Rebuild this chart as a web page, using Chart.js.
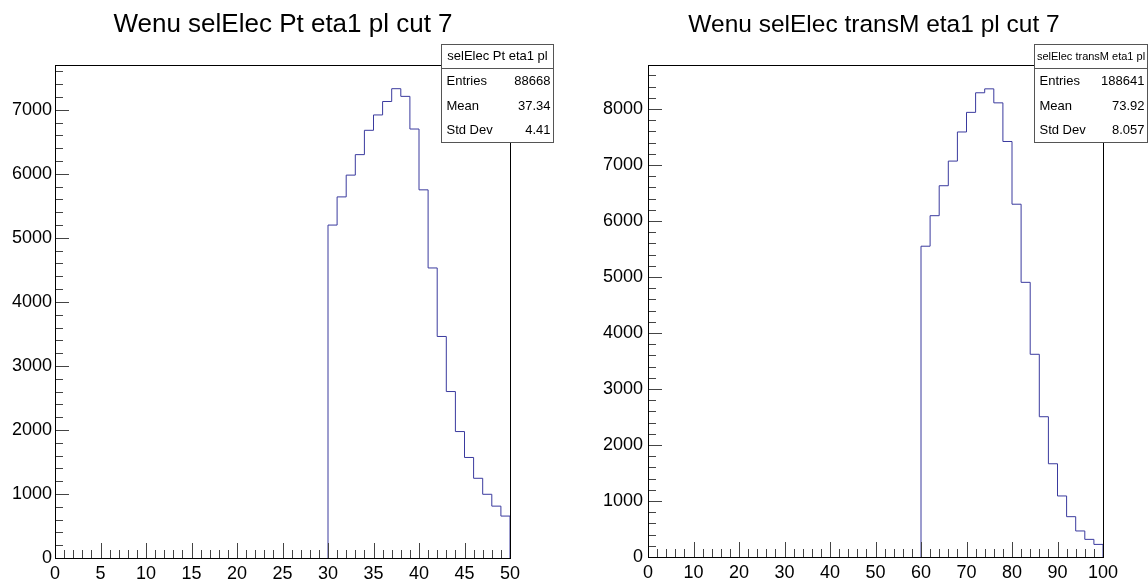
<!DOCTYPE html>
<html>
<head>
<meta charset="utf-8">
<script src="https://cdn.jsdelivr.net/npm/chart.js@4"></script>
<style>
  html, body { margin: 0; padding: 0; background: #fff; }
  #wrap { position: relative; width: 1148px; height: 581px; }
  canvas { position: absolute; top: 0; }
</style>
</head>
<body>
<div id="wrap">
  <canvas id="ptChart" width="574" height="581" style="left:0"></canvas>
  <canvas id="mtChart" width="574" height="581" style="left:574px"></canvas>
</div>
<script>
// left pad: electron Pt
const ptTitle = 'Wenu selElec Pt eta1 pl cut 7';
const ptBinEdges = [30, 31, 32, 33, 34, 35, 36, 37, 38, 39, 40, 41, 42, 43, 44, 45, 46, 47, 48, 49, 50];
const ptCounts = [5200, 5640, 5980, 6300, 6680, 6920, 7130, 7330, 7210, 6700,
                  5750, 4530, 3460, 2600, 1975, 1570, 1245, 995, 810, 655];
const ptXTicks = [0, 5, 10, 15, 20, 25, 30, 35, 40, 45, 50];
const ptYTicks = [0, 1000, 2000, 3000, 4000, 5000, 6000, 7000];
const ptStatsName = 'selElec Pt eta1 pl';
const ptStatsLabels = ['Entries', 'Mean', 'Std Dev'];
const ptStatsValues = ['88668', '37.34', '4.41'];

// right pad: transverse mass
const mtTitle = 'Wenu selElec transM eta1 pl cut 7';
const mtBinEdges = [60, 62, 64, 66, 68, 70, 72, 74, 76, 78, 80, 82, 84, 86, 88, 90, 92, 94, 96, 98, 100];
const mtCounts = [5550, 6095, 6630, 7070, 7590, 7940, 8290, 8360, 8110, 7420,
                  6300, 4905, 3620, 2505, 1665, 1090, 720, 465, 315, 225];
const mtXTicks = [0, 10, 20, 30, 40, 50, 60, 70, 80, 90, 100];
const mtYTicks = [0, 1000, 2000, 3000, 4000, 5000, 6000, 7000, 8000];
const mtStatsName = 'selElec transM eta1 pl';
const mtStatsLabels = ['Entries', 'Mean', 'Std Dev'];
const mtStatsValues = ['188641', '73.92', '8.057'];

const FONT = '"Liberation Sans", Arial, Helvetica, sans-serif';
const LINE_COLOR = '#3a3a9e';

// ROOT style: ticks inside the frame, minor ticks, full box
const rootFrame = {
  id: 'rootFrame',
  afterDatasetsDraw(chart, args, opts) {
    const { ctx, chartArea: a, scales: { x, y } } = chart;
    ctx.save();
    ctx.lineWidth = 1;
    ctx.strokeStyle = '#444';
    ctx.beginPath();
    for (let v = y.min; v <= y.max; v += opts.yMinor) {
      const py = Math.round(y.getPixelForValue(v)) + 0.5;
      const len = v % opts.yMajor === 0 ? 14 : 8;
      ctx.moveTo(a.left, py);
      ctx.lineTo(a.left + len, py);
    }
    for (let v = x.min; v <= x.max; v += opts.xMinor) {
      const px = Math.round(x.getPixelForValue(v)) + 0.5;
      const len = v % opts.xMajor === 0 ? 15 : 8;
      ctx.moveTo(px, a.bottom);
      ctx.lineTo(px, a.bottom - len);
    }
    ctx.stroke();
    ctx.strokeStyle = '#000';
    ctx.strokeRect(Math.round(a.left) + 0.5, Math.round(a.top) + 0.5,
                   Math.round(a.right - a.left), Math.round(a.bottom - a.top));
    ctx.restore();
  },
  afterDraw(chart, args, opts) {
    const ctx = chart.ctx;
    const b = opts.box;
    ctx.save();
    ctx.fillStyle = '#000';
    ctx.font = opts.titleSize + 'px ' + FONT;
    ctx.textAlign = 'center';
    ctx.textBaseline = 'alphabetic';
    ctx.fillText(opts.title, opts.titleX, 32);

    ctx.fillStyle = '#fff';
    ctx.fillRect(b.x, b.y, b.w, b.h);
    ctx.strokeStyle = '#555';
    ctx.lineWidth = 1;
    ctx.strokeRect(b.x, b.y, b.w, b.h);
    ctx.beginPath();
    ctx.moveTo(b.x, b.y + 24);
    ctx.lineTo(b.x + b.w, b.y + 24);
    ctx.stroke();

    ctx.fillStyle = '#000';
    ctx.textBaseline = 'middle';
    ctx.font = b.headerSize + 'px ' + FONT;
    ctx.fillText(opts.statsName, b.x + b.w / 2, b.y + 12);
    ctx.font = '13px ' + FONT;
    opts.statsLabels.forEach((lab, i) => {
      const ty = b.y + 37 + i * 24.5;
      ctx.textAlign = 'left';
      ctx.fillText(lab, b.x + 5, ty);
      ctx.textAlign = 'right';
      ctx.fillText(opts.statsValues[i], b.x + b.w - 3, ty);
    });
    ctx.restore();
  }
};

function histPoints(edges, counts) {
  const pts = [{ x: edges[0], y: 0 }];
  counts.forEach((c, i) => pts.push({ x: edges[i], y: c }));
  pts.push({ x: edges[edges.length - 1], y: counts[counts.length - 1] });
  pts.push({ x: edges[edges.length - 1], y: 0 });
  return pts;
}

function makeHist(id, h) {
  const ctx = document.getElementById(id).getContext('2d');
  return new Chart(ctx, {
    type: 'line',
    data: {
      datasets: [{
        data: histPoints(h.edges, h.counts),
        borderColor: LINE_COLOR,
        borderWidth: 1,
        pointRadius: 0,
        fill: false,
        stepped: true,
        tension: 0
      }]
    },
    options: {
      responsive: false,
      animation: false,
      devicePixelRatio: 1,
      layout: { padding: { left: 0, top: 65, right: 574 - h.frameRight, bottom: 0 } },
      scales: {
        x: {
          type: 'linear',
          min: h.xTicks[0],
          max: h.xTicks[h.xTicks.length - 1],
          afterBuildTicks: (s) => { s.ticks = h.xTicks.map(v => ({ value: v })); },
          afterFit: (s) => { s.height = 581 - h.frameBottom; },
          grid: { display: false, drawTicks: false },
          border: { display: false },
          ticks: {
            color: '#000', padding: 5, maxRotation: 0, autoSkip: false,
            font: { family: FONT, size: 18 },
            callback: (v) => String(v)
          }
        },
        y: {
          min: 0,
          max: h.yMax,
          afterBuildTicks: (s) => { s.ticks = h.yTicks.map(v => ({ value: v })); },
          afterFit: (s) => { s.width = h.frameLeft; },
          grid: { display: false, drawTicks: false },
          border: { display: false },
          ticks: {
            color: '#000', padding: h.yPad, autoSkip: false,
            font: { family: FONT, size: 18 },
            callback: (v) => String(v)
          }
        }
      },
      plugins: {
        legend: { display: false },
        tooltip: { enabled: false },
        rootFrame: {
          xMinor: h.xMinor, xMajor: h.xMajor, yMinor: 200, yMajor: 1000,
          title: h.title, titleX: h.titleX, titleSize: h.titleSize,
          statsName: h.statsName, statsLabels: h.statsLabels, statsValues: h.statsValues,
          box: h.box
        }
      }
    },
    plugins: [rootFrame]
  });
}

makeHist('ptChart', {
  edges: ptBinEdges, counts: ptCounts, xTicks: ptXTicks, yTicks: ptYTicks,
  yMax: 7700, xMinor: 1, xMajor: 5, yPad: 3,
  frameLeft: 55, frameRight: 510, frameBottom: 558,
  title: ptTitle, titleX: 283, titleSize: 26,
  statsName: ptStatsName, statsLabels: ptStatsLabels, statsValues: ptStatsValues,
  box: { x: 441.5, y: 44.5, w: 112, h: 98, headerSize: 13 }
});

makeHist('mtChart', {
  edges: mtBinEdges, counts: mtCounts, xTicks: mtXTicks, yTicks: mtYTicks,
  yMax: 8786, xMinor: 2, xMajor: 10, yPad: 5,
  frameLeft: 74, frameRight: 529, frameBottom: 557,
  title: mtTitle, titleX: 300, titleSize: 24.5,
  statsName: mtStatsName, statsLabels: mtStatsLabels, statsValues: mtStatsValues,
  box: { x: 460.5, y: 44.5, w: 113, h: 98, headerSize: 11 }
});
</script>
</body>
</html>
